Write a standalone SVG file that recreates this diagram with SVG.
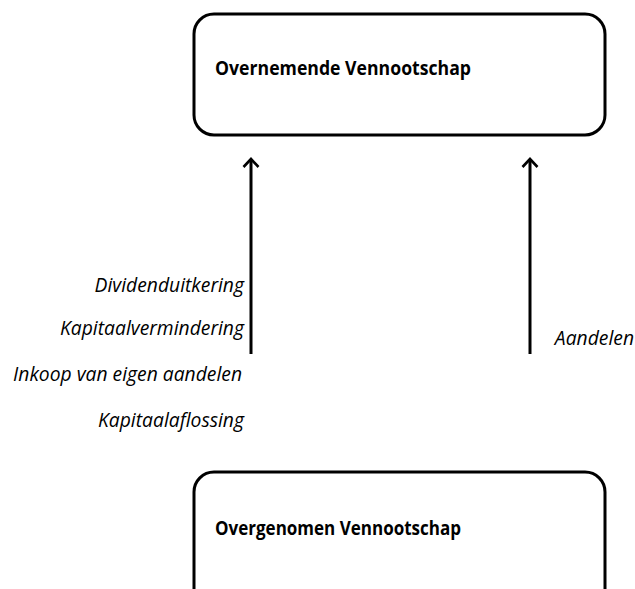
<svg xmlns="http://www.w3.org/2000/svg" width="635" height="589" viewBox="0 0 635 589">
<style>
.box{fill:#fff;stroke:#000;stroke-width:3}
.t{font-family:"Open Sans","Liberation Sans",sans-serif;font-weight:bold;font-size:19px;fill:#000}
.l{font-family:"Open Sans","Liberation Sans",sans-serif;font-style:italic;font-size:19.3px;fill:#000}
.c{stroke:#000;stroke-width:3;fill:none}
</style>
<defs>
<marker id="ah" markerWidth="14" markerHeight="18" refX="9" refY="9" orient="auto" markerUnits="userSpaceOnUse" viewBox="0 0 14 18">
<path d="M1,1.5 L9,9 L1,16.5" fill="none" stroke="#000" stroke-width="2.6"/>
</marker>
</defs>
<rect width="635" height="589" fill="#fff"/>
<g id="overnemende">
<rect class="box" x="194" y="14" width="411" height="121" rx="20"/>
<text class="t" x="215" y="75" textLength="256" lengthAdjust="spacingAndGlyphs">Overnemende Vennootschap</text>
</g>
<g id="overgenomen">
<rect class="box" x="194" y="472" width="411" height="140" rx="20"/>
<text class="t" x="215" y="535" textLength="246" lengthAdjust="spacingAndGlyphs">Overgenomen Vennootschap</text>
</g>
<g id="connectors">
<line class="c" x1="251" y1="354" x2="251" y2="159" marker-end="url(#ah)"/>
<line class="c" x1="530" y1="354" x2="530" y2="159" marker-end="url(#ah)"/>
</g>
<g id="labels">
<text class="l" x="244" y="292" text-anchor="end">Dividenduitkering</text>
<text class="l" x="244" y="335" text-anchor="end">Kapitaalvermindering</text>
<text class="l" x="242" y="381" text-anchor="end">Inkoop van eigen aandelen</text>
<text class="l" x="244" y="427" text-anchor="end">Kapitaalaflossing</text>
<text class="l" x="634" y="345" text-anchor="end">Aandelen</text>
</g>
</svg>
